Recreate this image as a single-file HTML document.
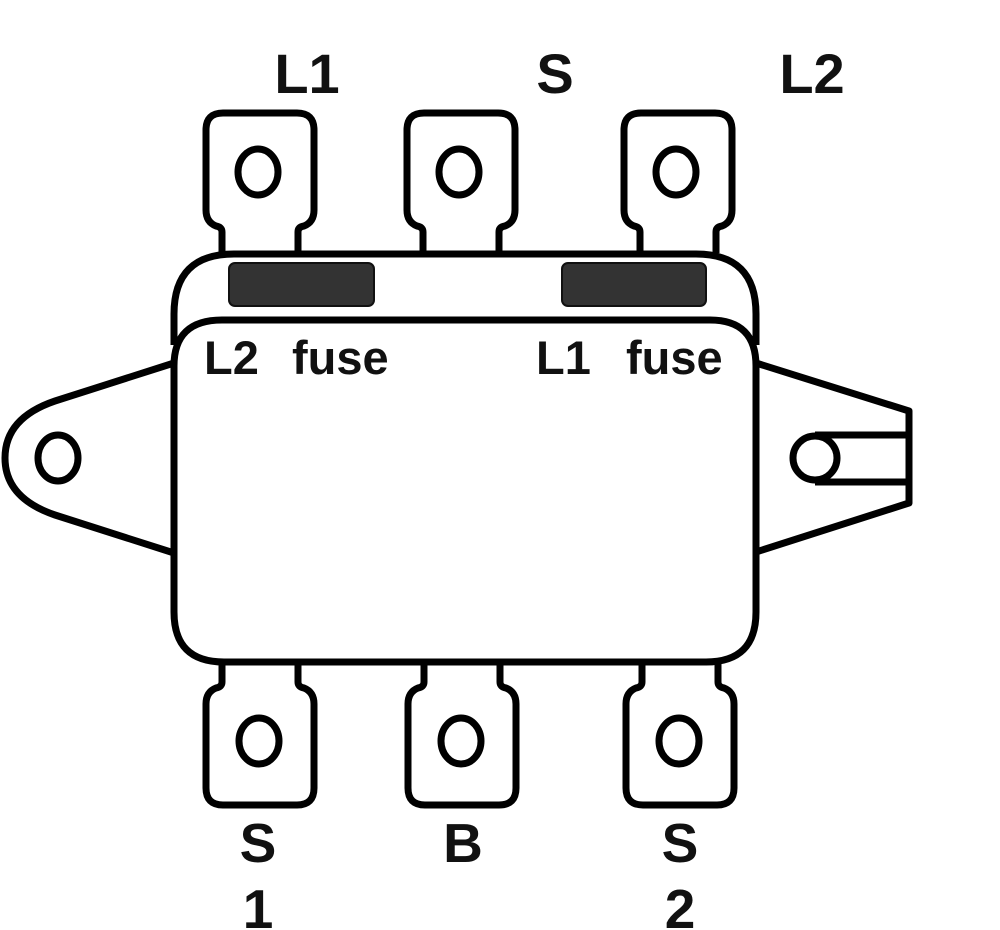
<!DOCTYPE html>
<html><head><style>
html,body{margin:0;padding:0;background:#fff;width:1000px;height:930px;overflow:hidden}
text{font-family:"Liberation Sans",sans-serif;font-weight:bold;fill:#111}
</style></head><body>
<svg width="1000" height="930" viewBox="0 0 1000 930" xmlns="http://www.w3.org/2000/svg">
<g fill="none" stroke="#000" stroke-width="7" stroke-linejoin="round">
 <g>
  <path d="M222,253 L222,232 Q222,227 216,226 Q206,222 206,210 L206,130 Q206,113 223,113 L297,113 Q314,113 314,130 L314,210 Q314,222 304,226 Q298,227 298,232 L298,253"/>
  <ellipse cx="258" cy="172" rx="20" ry="23"/>
 </g>
 <g transform="translate(201,0)">
  <path d="M222,253 L222,232 Q222,227 216,226 Q206,222 206,210 L206,130 Q206,113 223,113 L297,113 Q314,113 314,130 L314,210 Q314,222 304,226 Q298,227 298,232 L298,253"/>
  <ellipse cx="258" cy="172" rx="20" ry="23"/>
 </g>
 <g transform="translate(418,0)">
  <path d="M222,253 L222,232 Q222,227 216,226 Q206,222 206,210 L206,130 Q206,113 223,113 L297,113 Q314,113 314,130 L314,210 Q314,222 304,226 Q298,227 298,232 L298,253"/>
  <ellipse cx="258" cy="172" rx="20" ry="23"/>
 </g>
 <g>
  <path d="M222,663 L222,682 Q222,687 216,688 Q206,692 206,704 L206,788 Q206,805 223,805 L297,805 Q314,805 314,788 L314,704 Q314,692 304,688 Q298,687 298,682 L298,663"/>
  <ellipse cx="259" cy="741" rx="20" ry="23"/>
 </g>
 <g transform="translate(202,0)">
  <path d="M222,663 L222,682 Q222,687 216,688 Q206,692 206,704 L206,788 Q206,805 223,805 L297,805 Q314,805 314,788 L314,704 Q314,692 304,688 Q298,687 298,682 L298,663"/>
  <ellipse cx="259" cy="741" rx="20" ry="23"/>
 </g>
 <g transform="translate(420,0)">
  <path d="M222,663 L222,682 Q222,687 216,688 Q206,692 206,704 L206,788 Q206,805 223,805 L297,805 Q314,805 314,788 L314,704 Q314,692 304,688 Q298,687 298,682 L298,663"/>
  <ellipse cx="259" cy="741" rx="20" ry="23"/>
 </g>
 <path d="M174,345 L174,314 Q174,254 234,254 L696,254 Q756,254 756,314 L756,345"/>
 <path d="M222,320 L710,320 Q756,320 756,366 L756,612 Q756,662 706,662 L224,662 Q174,662 174,612 L174,366 Q174,320 222,320 Z"/>
 <path d="M174,363 L55,401 Q5,418 5,458 Q5,498 55,515 L174,553"/>
 <ellipse cx="58" cy="458" rx="20" ry="23"/>
 <path d="M756,363 L909,411 L909,503 L756,552"/>
 <path d="M815,435 L909,435 M815,482 L909,482"/>
 <circle cx="815" cy="458" r="22" fill="#fff"/>
</g>
<rect x="229" y="263" width="145" height="43" rx="6" fill="#333" stroke="#111" stroke-width="2"/>
<rect x="562" y="263" width="144" height="43" rx="6" fill="#333" stroke="#111" stroke-width="2"/>
<text x="307" y="93" font-size="56" text-anchor="middle">L1</text>
<text x="555" y="93" font-size="56" text-anchor="middle">S</text>
<text x="812" y="93" font-size="56" text-anchor="middle">L2</text>
<text x="204" y="374" font-size="47">L2</text>
<text x="292" y="374" font-size="47">fuse</text>
<text x="536" y="374" font-size="47">L1</text>
<text x="626" y="374" font-size="47">fuse</text>
<text x="258" y="862" font-size="55" text-anchor="middle">S</text>
<text x="258" y="928" font-size="55" text-anchor="middle">1</text>
<text x="463" y="862" font-size="55" text-anchor="middle">B</text>
<text x="680" y="862" font-size="55" text-anchor="middle">S</text>
<text x="680" y="928" font-size="55" text-anchor="middle">2</text>
</svg>
</body></html>
